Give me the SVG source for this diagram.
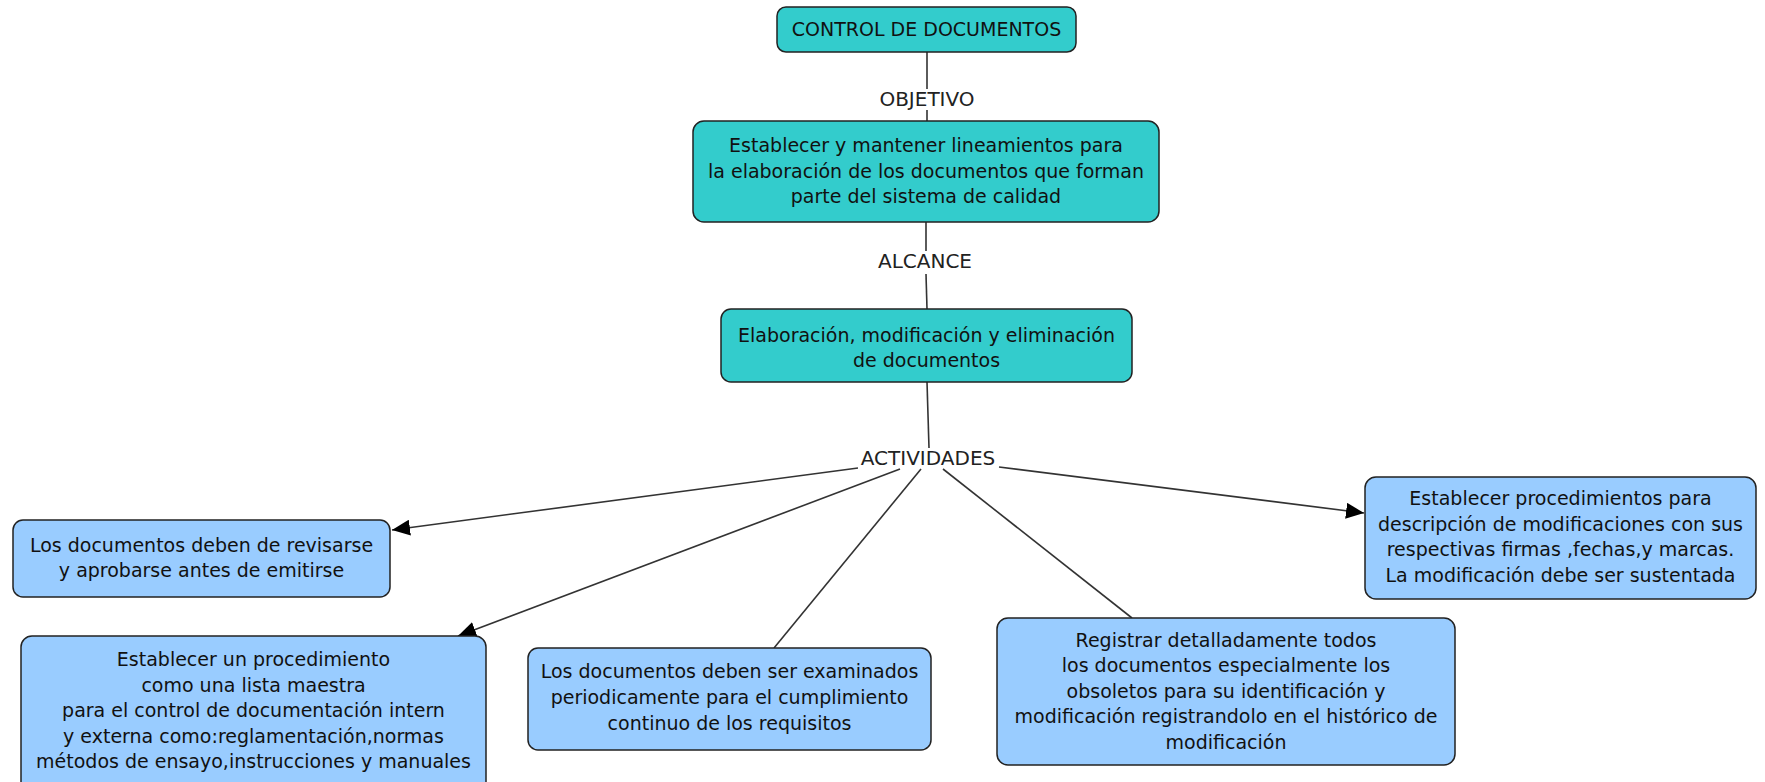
<svg xmlns="http://www.w3.org/2000/svg" width="1765" height="782" viewBox="0 0 1765 782">
<defs>
<style>
.teal{fill:#33CCCC;stroke:#222;stroke-width:1.5}
.blue{fill:#99CCFF;stroke:#222;stroke-width:1.5}
text{font-family:"DejaVu Sans",Verdana,sans-serif;font-size:19px;fill:#111;text-anchor:middle}
.lbl{font-size:20px;fill:#222}
.conn{stroke:#333;stroke-width:1.6;fill:none}
</style>
<marker id="arr" markerUnits="userSpaceOnUse" markerWidth="19" markerHeight="16" refX="18" refY="8" orient="auto">
<path d="M0,0 L18,8 L0,16 Z" fill="#000"/>
</marker>
</defs>
<rect width="1765" height="782" fill="#fff"/>
<g id="connectors">
<line class="conn" x1="927" y1="52" x2="927" y2="89"/>
<line class="conn" x1="927" y1="110" x2="927" y2="121"/>
<line class="conn" x1="926" y1="222" x2="926" y2="251"/>
<line class="conn" x1="926" y1="274" x2="927" y2="309"/>
<line class="conn" x1="927" y1="382" x2="929" y2="448"/>
<line class="conn" x1="858" y1="468" x2="392" y2="530" marker-end="url(#arr)"/>
<line class="conn" x1="900" y1="469" x2="458" y2="636" marker-end="url(#arr)"/>
<line class="conn" x1="921" y1="469" x2="774" y2="648"/>
<line class="conn" x1="943" y1="469" x2="1132" y2="618"/>
<line class="conn" x1="999" y1="467" x2="1364" y2="513" marker-end="url(#arr)"/>
<text class="lbl" x="927" y="106">OBJETIVO</text>
<text class="lbl" x="925" y="268">ALCANCE</text>
<text class="lbl" x="928" y="465">ACTIVIDADES</text>
</g>
<g id="n1">
<rect class="teal" x="777" y="7" width="299" height="45" rx="9"/>
<text x="926.5" y="36">CONTROL DE DOCUMENTOS</text>
</g>
<g id="n2">
<rect class="teal" x="693" y="121" width="466" height="101" rx="11"/>
<text x="926" y="152">Establecer y mantener lineamientos para</text>
<text x="926" y="177.5">la elaboración de los documentos que forman</text>
<text x="926" y="203">parte del sistema de calidad</text>
</g>
<g id="n3">
<rect class="teal" x="721" y="309" width="411" height="73" rx="10"/>
<text x="926.5" y="342">Elaboración, modificación y eliminación</text>
<text x="926.5" y="367">de documentos</text>
</g>
<g id="n4">
<rect class="blue" x="13" y="520" width="377" height="77" rx="10"/>
<text x="201.5" y="552">Los documentos deben de revisarse</text>
<text x="201.5" y="577">y aprobarse antes de emitirse</text>
</g>
<g id="n5">
<rect class="blue" x="21" y="636" width="465" height="160" rx="11"/>
<text x="253.5" y="666">Establecer un procedimiento</text>
<text x="253.5" y="691.5">como una lista maestra</text>
<text x="253.5" y="717">para el control de documentación intern</text>
<text x="253.5" y="742.5">y externa como:reglamentación,normas</text>
<text x="253.5" y="768">métodos de ensayo,instrucciones y manuales</text>
</g>
<g id="n6">
<rect class="blue" x="528" y="648" width="403" height="102" rx="10"/>
<text x="729.5" y="678">Los documentos deben ser examinados</text>
<text x="729.5" y="704">periodicamente para el cumplimiento</text>
<text x="729.5" y="730">continuo de los requisitos</text>
</g>
<g id="n7">
<rect class="blue" x="997" y="618" width="458" height="147" rx="11"/>
<text x="1226" y="647">Registrar detalladamente todos</text>
<text x="1226" y="672">los documentos especialmente los</text>
<text x="1226" y="697.5">obsoletos para su identificación y</text>
<text x="1226" y="723">modificación registrandolo en el histórico de</text>
<text x="1226" y="748.5">modificación</text>
</g>
<g id="n8">
<rect class="blue" x="1365" y="477" width="391" height="122" rx="11"/>
<text x="1560.5" y="505">Establecer procedimientos para</text>
<text x="1560.5" y="530.5">descripción de modificaciones con sus</text>
<text x="1560.5" y="556">respectivas firmas ,fechas,y marcas.</text>
<text x="1560.5" y="582">La modificación debe ser sustentada</text>
</g>
</svg>
